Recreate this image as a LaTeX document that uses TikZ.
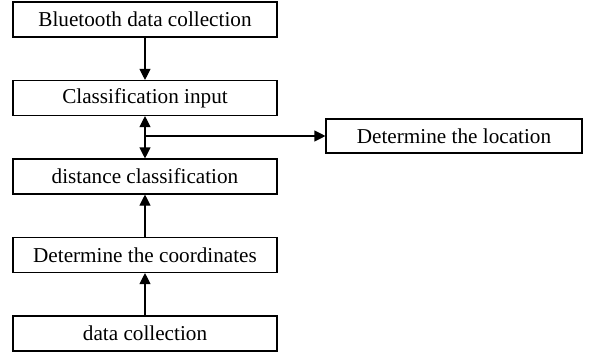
\documentclass[tikz,border=0pt]{standalone}
\usepackage{fontspec}
\setmainfont{Liberation Serif}
\usetikzlibrary{arrows.meta,positioning}
\begin{document}
\begin{tikzpicture}[node distance={78.5pt}, line width=1.1pt, >={Triangle[length=11pt,width=11pt]},
  main/.style = {draw, rectangle, minimum width=264pt, minimum height=35pt, inner sep=0pt, font=\fontsize{21.2}{24}\selectfont}]
\useasboundingbox (0,0) rectangle (595pt,-356pt);
\node[main] (1) at (145pt,-19.5pt) {Bluetooth data collection};
\node[main] (2) [below of=1] {Classification input};
\node[main] (3) [below of=2] {distance classification};
\node[main] (4) [below of=3] {Determine the coordinates};
\node[main] (5) [below of=4] {data collection};
\node[main, minimum width=256pt, minimum height=34pt] (6) at (454pt,-136pt) {Determine the location};
\draw[->] (1) -- (2);
\draw[<->] (2) -- (3);
\draw[->] (2.south |- 6.west) -- (6.west);
\draw[->] (4) -- (3);
\draw[->] (5) -- (4);
\end{tikzpicture}
\end{document}
